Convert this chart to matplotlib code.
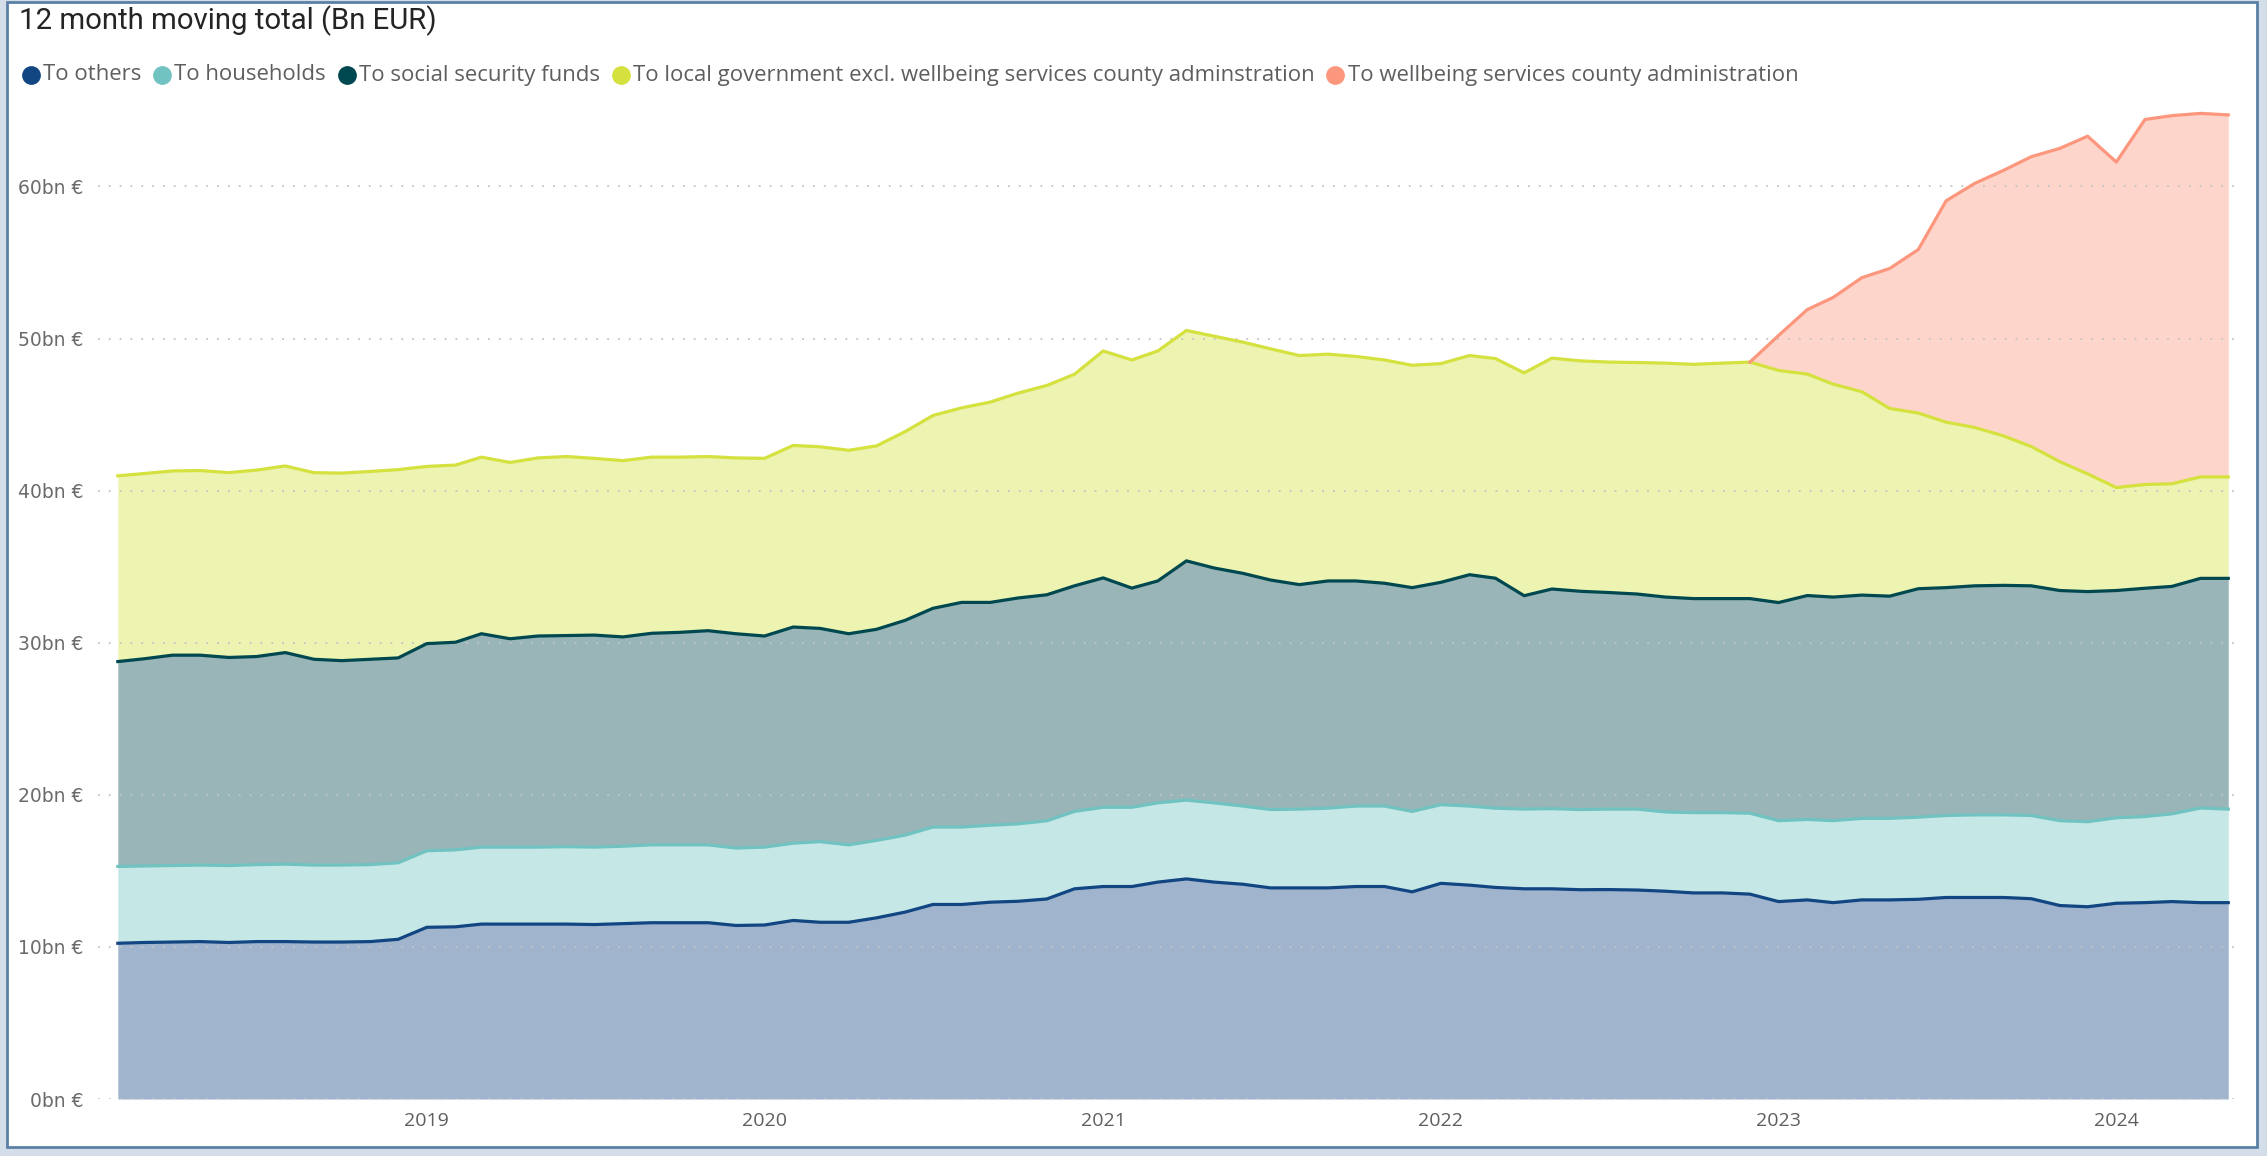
import matplotlib
matplotlib.use('Agg')
import matplotlib.pyplot as plt
import matplotlib.dates as mdates
from matplotlib.patches import Rectangle
from matplotlib.ticker import FuncFormatter
import numpy as np
import pandas as pd

plt.rcParams['font.family'] = ['Open Sans', 'DejaVu Sans']

# monthly points, Feb 2018 .. May 2024 (bn EUR, 12 month moving total)
months = pd.date_range('2018-02-01', periods=76, freq='MS')

others = [10.24, 10.29, 10.32, 10.35, 10.29, 10.35, 10.35, 10.32, 10.32, 10.35,
          10.50, 11.29, 11.32, 11.50, 11.50, 11.50, 11.50, 11.47, 11.53, 11.59,
          11.59, 11.59, 11.41, 11.44, 11.74, 11.62, 11.62, 11.91, 12.29, 12.79,
          12.79, 12.94, 13.00, 13.15, 13.82, 13.97, 13.97, 14.26, 14.47, 14.26,
          14.12, 13.88, 13.88, 13.88, 13.97, 13.97, 13.62, 14.18, 14.06, 13.91,
          13.82, 13.82, 13.76, 13.77, 13.74, 13.66, 13.55, 13.55, 13.47, 12.98,
          13.09, 12.91, 13.09, 13.09, 13.13, 13.25, 13.25, 13.25, 13.17, 12.72,
          12.64, 12.87, 12.91, 12.98, 12.91, 12.91]

households = [5.05, 5.03, 5.03, 5.03, 5.06, 5.06, 5.09, 5.06, 5.06, 5.06,
              5.03, 5.03, 5.06, 5.06, 5.06, 5.06, 5.09, 5.09, 5.09, 5.12,
              5.12, 5.12, 5.09, 5.12, 5.08, 5.30, 5.09, 5.09, 5.06, 5.09,
              5.09, 5.06, 5.09, 5.14, 5.09, 5.21, 5.21, 5.21, 5.18, 5.21,
              5.14, 5.15, 5.18, 5.24, 5.29, 5.29, 5.29, 5.17, 5.20, 5.21,
              5.24, 5.27, 5.27, 5.29, 5.32, 5.21, 5.28, 5.28, 5.32, 5.32,
              5.29, 5.39, 5.36, 5.36, 5.40, 5.39, 5.43, 5.43, 5.47, 5.58,
              5.59, 5.62, 5.66, 5.77, 6.22, 6.15]

social_security = [13.47, 13.62, 13.83, 13.80, 13.68, 13.68, 13.91, 13.53, 13.44, 13.50,
                   13.47, 13.62, 13.65, 14.03, 13.70, 13.88, 13.88, 13.94, 13.76, 13.91,
                   13.97, 14.08, 14.09, 13.88, 14.21, 14.02, 13.88, 13.88, 14.12, 14.38,
                   14.77, 14.65, 14.85, 14.86, 14.83, 15.08, 14.41, 14.59, 15.73, 15.44,
                   15.30, 15.09, 14.76, 14.94, 14.80, 14.65, 14.71, 14.62, 15.21, 15.12,
                   14.03, 14.44, 14.35, 14.24, 14.14, 14.13, 14.07, 14.07, 14.11, 14.34,
                   14.72, 14.70, 14.68, 14.61, 15.02, 14.98, 15.06, 15.09, 15.10, 15.13,
                   15.13, 14.94, 15.01, 14.95, 15.10, 15.17]

local_government = [12.21, 12.18, 12.11, 12.14, 12.15, 12.26, 12.27, 12.27, 12.33, 12.35,
                    12.38, 11.65, 11.65, 11.61, 11.59, 11.71, 11.77, 11.62, 11.59, 11.58,
                    11.52, 11.45, 11.56, 11.68, 11.94, 11.94, 12.06, 12.06, 12.41, 12.68,
                    12.79, 13.17, 13.47, 13.76, 13.91, 14.92, 15.00, 15.12, 15.15, 15.24,
                    15.20, 15.20, 15.06, 14.91, 14.76, 14.68, 14.62, 14.38, 14.41, 14.44,
                    14.65, 15.18, 15.15, 15.15, 15.22, 15.38, 15.40, 15.48, 15.55, 15.26,
                    14.56, 14.00, 13.37, 12.34, 11.55, 10.88, 10.41, 9.83, 9.16, 8.47,
                    7.74, 6.77, 6.82, 6.75, 6.67, 6.67]

wellbeing = [None] * 58 + [0.0, 2.30, 4.24, 5.70, 7.50, 9.20, 10.75, 14.55, 16.05,
                           17.45, 19.05, 20.60, 22.20, 21.40, 24.00, 24.20, 23.90, 23.80]

labels = ['To others', 'To households', 'To social security funds',
          'To local government excl. wellbeing services county adminstration',
          'To wellbeing services county administration']
colors = ['#124682', '#70c3c0', '#00484f', '#d4e13e', '#fc967d']

W, H = 2267, 1156
fig = plt.figure(figsize=(W / 100, H / 100), dpi=100, facecolor='#d3dee8')
fig.add_artist(Rectangle((6.5 / W, 9 / H), 2250 / W, 1145 / H, transform=fig.transFigure,
                         facecolor='white', edgecolor='#5b80a5', lw=2, zorder=0))

ax = fig.add_axes([0.0434, 0.0493, 0.944, 0.8684])
ax.set_facecolor('none')

stack = np.cumsum(np.array([others, households, social_security, local_government]), axis=0)
bottom = np.zeros(len(months))
for top, c in zip(stack, colors[:4]):
    ax.fill_between(months, bottom, top, color=c, alpha=0.4, lw=0, zorder=1)
    bottom = top
for top, c in zip(stack, colors[:4]):
    ax.plot(months, top, color=c, lw=2.3, zorder=3, solid_joinstyle='round')

wb = np.array([np.nan if v is None else v for v in wellbeing])
total = stack[3] + wb
ax.fill_between(months, stack[3], total, color=colors[4], alpha=0.4, lw=0, zorder=1)
ax.plot(months, total, color=colors[4], lw=2.3, zorder=3)

ax.set_ylim(0, 66)
ax.set_xlim(pd.Timestamp('2018-01-11'), pd.Timestamp('2024-05-12'))
ax.set_yticks(range(0, 61, 10))
ax.yaxis.set_major_formatter(FuncFormatter(lambda v, p: f'{v:.0f}bn €'))
ax.xaxis.set_major_locator(mdates.YearLocator())
ax.xaxis.set_major_formatter(mdates.DateFormatter('%Y'))
ax.grid(axis='y', color='#c4c4c4', linestyle=(0, (1, 5)), lw=1.3, zorder=0)
ax.tick_params(length=0)
ax.tick_params(axis='y', pad=11, labelsize=13.5, labelcolor='#6b6b6b')
ax.tick_params(axis='x', pad=9, labelsize=14, labelcolor='#605e5c')
for t in ax.get_yticklabels():
    t.set_fontfamily('DejaVu Sans')
for s in ax.spines.values():
    s.set_visible(False)

# overlay in pixel coords for title + legend
ov = fig.add_axes([0, 0, 1, 1])
ov.set_xlim(0, W)
ov.set_ylim(H, 0)
ov.axis('off')
ov.patch.set_visible(False)

renderer = fig.canvas.get_renderer()
title = ov.text(19, 21, '12 month moving total (Bn EUR)', fontsize=20, family='Roboto',
                color='#252423', va='center', ha='left')
tw = title.get_window_extent(renderer).width
title.set_fontsize(20 * 418 / tw)

# legend: fit font size so the row spans the same width as the original
def layout_legend(size, draw=False):
    x = 21
    for lab, c in zip(labels, colors):
        t = ov.text(x + 22, 75, lab, fontsize=size, color='#605e5c', va='center', ha='left')
        w = t.get_window_extent(renderer).width
        if draw:
            ov.plot([x + 9.5], [75], 'o', ms=13.5, color=c, mec='none')
        else:
            t.remove()
        x = x + 22 + w + 11
    return x - 11

end = layout_legend(15)
size = 15 * (1800 - 43 - 33 * 4) / (end - 43 - 33 * 4)
layout_legend(size, draw=True)

fig.savefig('out.png', dpi=100, facecolor=fig.get_facecolor())
